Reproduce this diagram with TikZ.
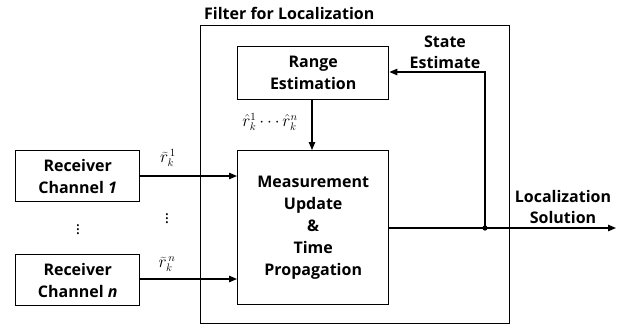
\documentclass[tikz,border=0pt]{standalone}
\usepackage{fontspec}
\setmainfont{Open Sans}
\usetikzlibrary{arrows.meta}
\begin{document}
\begin{tikzpicture}[x=1pt,y=-1pt,
  box/.style={draw,line width=1.4pt,inner sep=0pt,anchor=north west,align=center,font=\bfseries\fontsize{16}{22}\selectfont},
  lbl/.style={font=\bfseries\fontsize{16}{21}\selectfont,align=center,inner sep=0pt},
  conn/.style={line width=1.3pt},
  arr/.style={conn,-{Triangle[length=8pt,width=6.5pt]}},
  math/.style={inner sep=0pt,font=\fontsize{16}{18}\selectfont}]
\useasboundingbox (0,0) rectangle (619,325);
\node[box,minimum width=309pt,minimum height=298pt] (outer) at (200,25) {};
\node[lbl,anchor=west] (title) at (204,13) {Filter for Localization};
\node[box,minimum width=151pt,minimum height=53pt] (range) at (237,46) {Range\\Estimation};
\node[box,minimum width=151pt,minimum height=154pt] (meas) at (237,150) {Measurement\\Update\\\&\\Time\\Propagation};
\node[box,minimum width=124pt,minimum height=51pt] (rx1) at (15,150) {Receiver\\Channel \textit{1}};
\node[box,minimum width=124pt,minimum height=51pt] (rxn) at (15,254) {Receiver\\Channel \textit{n}};
\node[math] (l1) at (168,158) {$\widetilde{r}_k^{\,1}$};
\node[math] (ln) at (167,264) {$\widetilde{r}_k^{\,n}$};
\node[math] (lh) at (270,122) {$\hat{r}_k^{1}\cdots\hat{r}_k^{n}$};
\node[math] (d1) at (78,227) {$\vdots$};
\node[math] (d2) at (167,216) {$\vdots$};
\node[lbl] (se) at (445,52) {State\\Estimate};
\node[lbl] (ls) at (563,207) {Localization\\Solution};
\coordinate (j) at (485,228);
\coordinate (o) at (616,228);
\draw[arr] (rx1.east |- 0,176) -- (meas.west |- 0,176);
\draw[arr] (rxn.east |- 0,279) -- (meas.west |- 0,279);
\draw[arr] (range.south -| 312,0) -- (meas.north -| 312,0);
\draw[conn] (meas.east |- j) -- (j);
\draw[arr] (j) -- (o);
\draw[arr] (j) -- (j |- 0,72) -- (range.east |- 0,72);
\fill (j) circle (2.6pt);
\end{tikzpicture}
\end{document}
